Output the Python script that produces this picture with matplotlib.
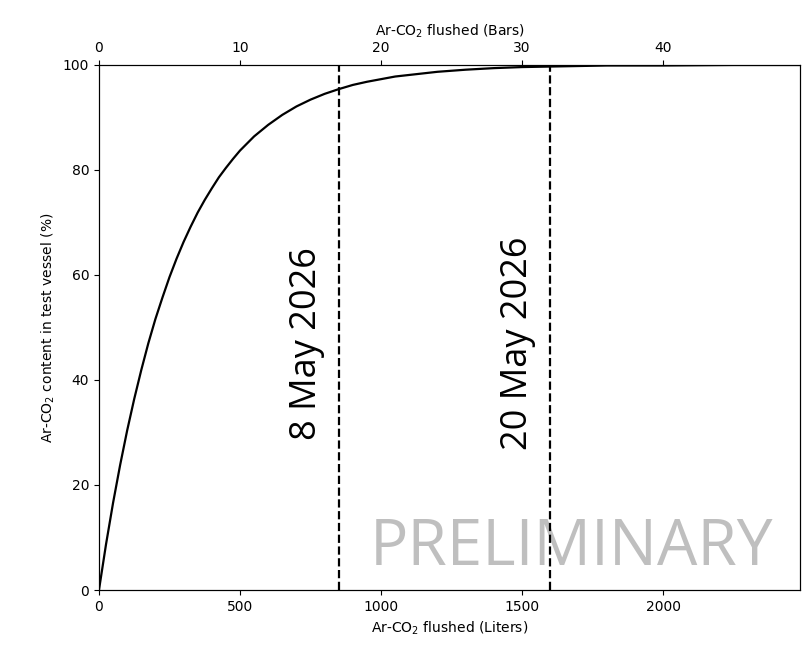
import matplotlib.pyplot as plt

# gelesene Werte (Liter -> Ar-CO2 Anteil in %)
liters = [0, 25, 50, 75, 100, 125, 150, 175, 200, 225, 250, 275, 300, 325, 350, 375,
          400, 425, 450, 475, 500, 550, 600, 650, 700, 750, 800, 850, 900, 950, 1000,
          1050, 1100, 1150, 1200, 1300, 1400, 1500, 1600, 1800, 2000, 2250, 2500]
content = [0.0, 8.7, 16.6, 23.8, 30.4, 36.4, 41.9, 47.0, 51.6, 55.7, 59.6, 63.1, 66.3, 69.2, 71.9, 74.3,
           76.5, 78.6, 80.4, 82.1, 83.7, 86.4, 88.6, 90.5, 92.1, 93.4, 94.5, 95.4, 96.2, 96.8, 97.3,
           97.8, 98.1, 98.4, 98.7, 99.1, 99.4, 99.6, 99.7, 99.9, 99.9, 100.0, 100.0]

dates = ["8 May 2026", "20 May 2026"]
date_liters = [850, 1600]
liters_per_bar = 50
x_max = 2485

fig = plt.figure(figsize=(8.02, 6.51), dpi=100)
ax = fig.add_axes([0.1234, 0.0937, 0.8741, 0.8065])

ax.plot(liters, content, color='k', linewidth=1.6, solid_joinstyle='round')
for d, xl in zip(dates, date_liters):
    ax.axvline(xl, color='k', linestyle='--', linewidth=1.6)
    ax.text(xl - 50, 47, d, rotation=90, ha='right', va='center',
            fontsize=26, family='Open Sans')

ax.text(0.962, 0.048, "PRELIMINARY", transform=ax.transAxes, ha='right', va='baseline',
        fontsize=46, family='Open Sans', color='gray', alpha=0.5, zorder=0)

ax.set_xlim(0, x_max)
ax.set_ylim(0, 100)
ax.set_xlabel("Ar-CO$_2$ flushed (Liters)")
ax.set_ylabel("Ar-CO$_2$ content in test vessel (%)")

ax2 = ax.twiny()
ax2.set_xlim(0, x_max / liters_per_bar)
ax2.set_xlabel("Ar-CO$_2$ flushed (Bars)")

plt.savefig("out.png", dpi=100)
